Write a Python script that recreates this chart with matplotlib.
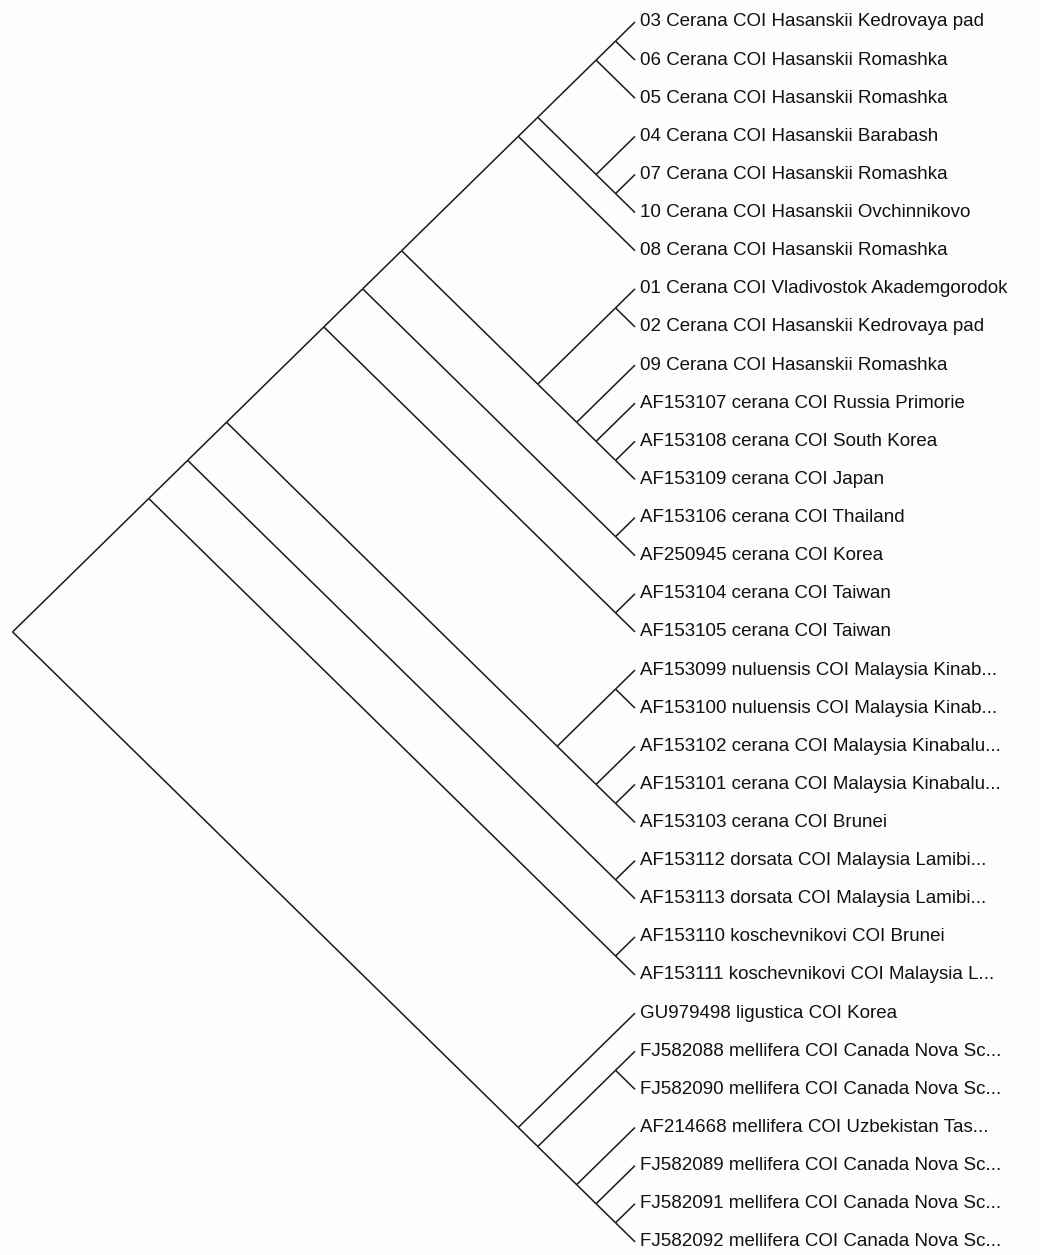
import matplotlib
matplotlib.use("Agg")
import matplotlib.pyplot as plt

# tip labels, top to bottom
labels = [
    "03 Cerana COI Hasanskii Kedrovaya pad",
    "06 Cerana COI Hasanskii Romashka",
    "05 Cerana COI Hasanskii Romashka",
    "04 Cerana COI Hasanskii Barabash",
    "07 Cerana COI Hasanskii Romashka",
    "10 Cerana COI Hasanskii Ovchinnikovo",
    "08 Cerana COI Hasanskii Romashka",
    "01 Cerana COI Vladivostok Akademgorodok",
    "02 Cerana COI Hasanskii Kedrovaya pad",
    "09 Cerana COI Hasanskii Romashka",
    "AF153107 cerana COI Russia Primorie",
    "AF153108 cerana COI South Korea",
    "AF153109 cerana COI Japan",
    "AF153106 cerana COI Thailand",
    "AF250945 cerana COI Korea",
    "AF153104 cerana COI Taiwan",
    "AF153105 cerana COI Taiwan",
    "AF153099 nuluensis COI Malaysia Kinab...",
    "AF153100 nuluensis COI Malaysia Kinab...",
    "AF153102 cerana COI Malaysia Kinabalu...",
    "AF153101 cerana COI Malaysia Kinabalu...",
    "AF153103 cerana COI Brunei",
    "AF153112 dorsata COI Malaysia Lamibi...",
    "AF153113 dorsata COI Malaysia Lamibi...",
    "AF153110 koschevnikovi COI Brunei",
    "AF153111 koschevnikovi COI Malaysia L...",
    "GU979498 ligustica COI Korea",
    "FJ582088 mellifera COI Canada Nova Sc...",
    "FJ582090 mellifera COI Canada Nova Sc...",
    "AF214668 mellifera COI Uzbekistan Tas...",
    "FJ582089 mellifera COI Canada Nova Sc...",
    "FJ582091 mellifera COI Canada Nova Sc...",
    "FJ582092 mellifera COI Canada Nova Sc...",
]

# topology as nested tuples of tip indices
clade_a = ((((0, 1), 2), (3, (4, 5))), 6)
clade_b = ((7, 8), (9, (10, (11, 12))))
clade_c = ((17, 18), (19, (20, 21)))
clade_d = (26, ((27, 28), (29, (30, (31, 32)))))
tree = ((((((clade_a, clade_b), (13, 14)), (15, 16)), clade_c), (22, 23)), (24, 25))
tree = (tree, clade_d)


def layout(node):
    # slanted cladogram: node sits where the lines from its outer tips meet
    if isinstance(node, int):
        return node, node, (0.0, float(node))
    lo, hi = None, None
    kids = []
    for ch in node:
        a, b, pos = layout(ch)
        lo = a if lo is None else min(lo, a)
        hi = b if hi is None else max(hi, b)
        kids.append((ch, pos))
    pos = (-(hi - lo) / 2.0, (hi + lo) / 2.0)
    return lo, hi, (pos, kids)


def draw(ax, node, info):
    if isinstance(node, int):
        return
    pos, kids = info
    for ch, cinfo in kids:
        cpos = cinfo if isinstance(ch, int) else cinfo[0]
        ax.plot([pos[0], cpos[0]], [pos[1], cpos[1]], color="#1a1a1a", lw=1.1,
                solid_capstyle="butt")
        draw(ax, ch, cinfo)


fig = plt.figure(figsize=(10.4, 12.55), dpi=100)
fig.patch.set_facecolor("#fdfdfd")
ax = fig.add_axes([0, 0, 1, 1])
ax.set_facecolor("#fdfdfd")

_, _, info = layout(tree)
draw(ax, tree, info)

ux, uy = 38.9, 38.12  # pixels per unit, across and down
tip_px, top_px = 635, 22

for i, lab in enumerate(labels):
    ax.text(5 / ux, i, lab, ha="left", va="center", fontsize=13.5,
            family="Liberation Sans", color="#111111")

ax.set_xlim(-tip_px / ux, (1040 - tip_px) / ux)
ax.set_ylim((1255 - top_px) / uy, -top_px / uy)
ax.axis("off")

fig.savefig("out.png", dpi=100, facecolor=fig.get_facecolor())
